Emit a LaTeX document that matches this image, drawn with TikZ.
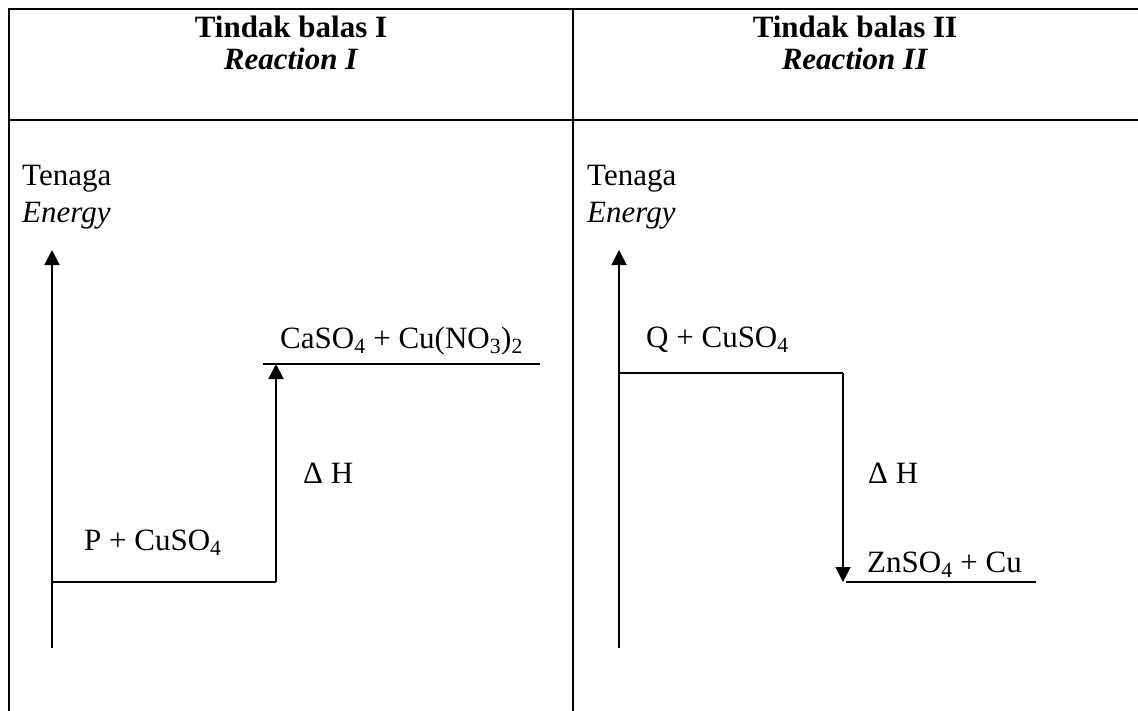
\documentclass[tikz,border=0pt]{standalone}
\usepackage{fontspec}
\setmainfont{Liberation Serif}
\usetikzlibrary{arrows.meta}
\tikzset{
  frame/.style={line width=2.3pt, line cap=rect},
  axisline/.style={line width=1.9pt},
  level/.style={line width=1.4pt},
  arrowline/.style={line width=1.9pt, -{Triangle[length=15pt,width=15pt]}},
  txt/.style={anchor=base west, inner sep=0pt, font=\fontsize{31}{37}\selectfont},
  head/.style={anchor=base, inner sep=0pt, font=\fontsize{31}{37}\selectfont\bfseries},
}
\begin{document}
\begin{tikzpicture}[x=1pt,y=-1pt]
\useasboundingbox (0,0) rectangle (1138,710);
% table frame
\coordinate (TL) at (9,9);
\coordinate (TR) at (1138,9);
\coordinate (BL) at (9,710);
\coordinate (HL) at (9,120);
\coordinate (HR) at (1138,120);
\coordinate (DT) at (573,9);
\coordinate (DB) at (573,710);
\draw[frame] (BL) -- (TL) -- (TR);
\draw[frame] (HL) -- (HR);
\draw[frame] (DT) -- (DB);
% headers
\node[head] (h1) at (291,37) {Tindak balas I};
\node[head] (h1e) at (291,69) {\textit{Reaction I}};
\node[head] (h2) at (855,37) {Tindak balas II};
\node[head] (h2e) at (855,69) {\textit{Reaction II}};
% ---------- Reaction I ----------
\node[txt] (t1) at (22,185) {Tenaga};
\node[txt] (e1) at (22,222) {\textit{Energy}};
\coordinate (a1b) at (52,648);
\coordinate (a1t) at (52,250);
\draw[arrowline] (a1b) -- (a1t);
\coordinate (p0) at (52,582);
\coordinate (p1) at (276,582);
\draw[level] (p0) -- (p1);
\coordinate (c0) at (263,364);
\coordinate (c1) at (540,364);
\draw[level] (c0) -- (c1);
\coordinate (up) at (276,364);
\draw[arrowline] (p1) -- (up);
\node[txt] (pl) at (84,550) {P + CuSO\textsubscript{4}};
\node[txt] (cl) at (280,348) {CaSO\textsubscript{4} + Cu(NO\textsubscript{3})\textsubscript{2}};
\node[txt] (dh1) at (303,483) {Δ H};
% ---------- Reaction II ----------
\node[txt] (t2) at (587,185) {Tenaga};
\node[txt] (e2) at (587,222) {\textit{Energy}};
\coordinate (a2b) at (619,648);
\coordinate (a2t) at (619,250);
\draw[arrowline] (a2b) -- (a2t);
\coordinate (q0) at (619,373);
\coordinate (q1) at (843,373);
\draw[level] (q0) -- (q1);
\coordinate (dn) at (843,582);
\draw[arrowline] (q1) -- (dn);
\coordinate (z0) at (846,582);
\coordinate (z1) at (1036,582);
\draw[level] (z0) -- (z1);
\node[txt] (ql) at (646,347) {Q + CuSO\textsubscript{4}};
\node[txt] (dh2) at (868,483) {Δ H};
\node[txt] (zl) at (867,572) {ZnSO\textsubscript{4} + Cu};
\end{tikzpicture}
\end{document}
